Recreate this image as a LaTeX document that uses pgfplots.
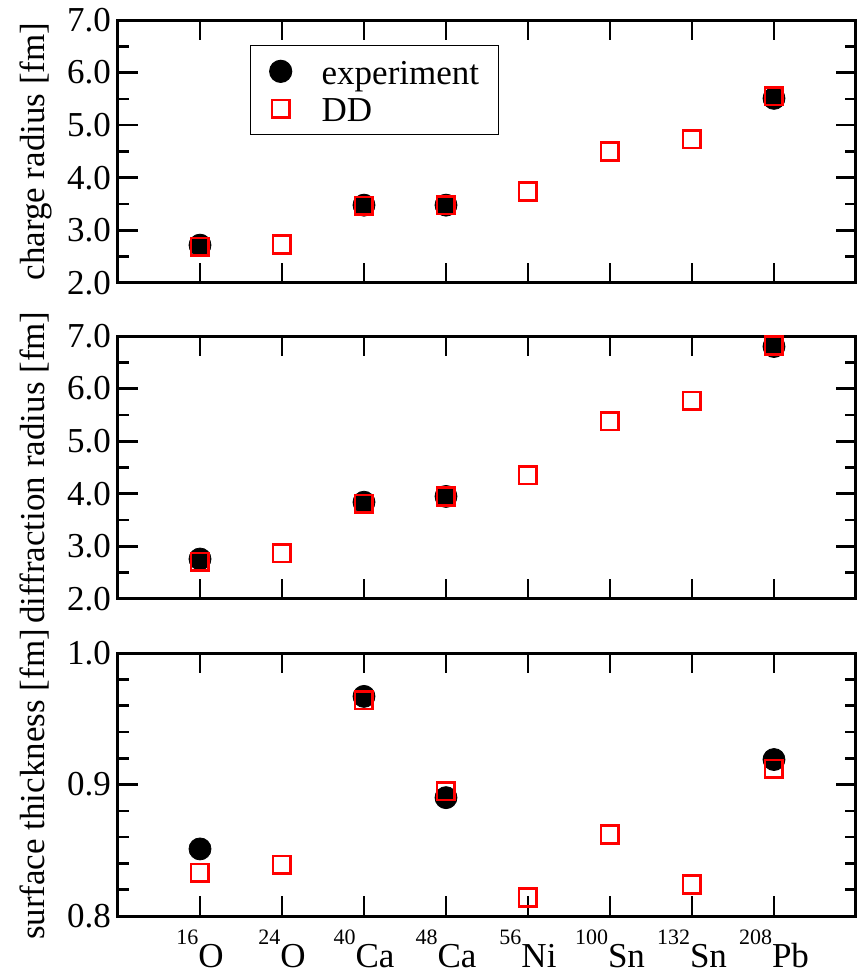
\documentclass[border=0pt]{standalone}
\usepackage{pgfplots}
\pgfplotsset{compat=1.18}
\usepackage{fontspec}
\setmainfont{Liberation Serif}
\newcommand{\iso}[2]{\raisebox{11.5pt}{\fontsize{11}{12}\selectfont #1}#2}

\begin{document}
\begin{tikzpicture}
\path[use as bounding box] (-59pt,-28.5pt) rectangle (370pt,458pt);
\pgfplotsset{
 panel/.style={scale only axis, width=369pt, height=131.5pt, xmin=0, xmax=9, xtick={1,...,8},
   tick align=inside, major tick length=10pt, minor tick length=5.5pt,
   axis line style={line width=1.5pt}, every tick/.style={black,line width=1.3pt},
   ticklabel style={font=\fontsize{17.5}{20}\selectfont},
   label style={font=\fontsize{17.5}{20}\selectfont},
   /pgf/number format/assume math mode=true,
   yticklabel style={/pgf/number format/fixed, /pgf/number format/fixed zerofill, /pgf/number format/precision=1},
   xticklabel style={yshift=-3.5pt},
   ylabel style={at={(axis description cs:-0.099,0.5)}, anchor=base},
   tick pos=both},
 exp/.style={only marks, mark=*, mark size=5.5pt, black, mark options={fill=black}},
 dd/.style={only marks, mark=square, mark size=4.4pt, red, mark options={line width=1.3pt}},
}
\begin{axis}[panel, at={(0,316.5pt)}, anchor=south west, ymin=2, ymax=7, ytick={2,3,4,5,6,7},
  minor y tick num=1, xticklabels={}, ylabel={charge radius [fm]},
  legend cell align=left,
  legend style={at={(axis description cs:0.179,0.905)}, anchor=north west, draw=black, line width=0.6pt,
    inner xsep=9.5pt, inner ysep=6.5pt, font=\fontsize{17.5}{20}\selectfont, row sep=6pt, column sep=15pt,
    nodes={inner xsep=0pt, inner ysep=0pt, text height=12.75pt, text depth=0pt}}]
\addplot[exp] coordinates {(1,2.72)(3,3.48)(4,3.48)(8,5.51)};
\addplot[dd] coordinates {(1,2.69)(2,2.73)(3,3.47)(4,3.48)(5,3.74)(6,4.50)(7,4.73)(8,5.55)};
\legend{experiment, DD}
\end{axis}
\begin{axis}[panel, at={(0,158.5pt)}, anchor=south west, ymin=2, ymax=7, ytick={2,3,4,5,6,7},
  minor y tick num=1, xticklabels={}, ylabel={diffraction radius [fm]}]
\addplot[exp] coordinates {(1,2.76)(3,3.84)(4,3.95)(8,6.80)};
\addplot[dd] coordinates {(1,2.71)(2,2.87)(3,3.81)(4,3.95)(5,4.35)(6,5.38)(7,5.77)(8,6.82)};
\end{axis}
\begin{axis}[panel, at={(0,0)}, anchor=south west, ymin=0.8, ymax=1.0, ytick={0.8,0.9,1.0},
  minor y tick num=4, ylabel={surface thickness [fm]},
  xticklabels={\iso{16}{O}, \iso{24}{O}, \iso{40}{Ca}, \iso{48}{Ca}, \iso{56}{Ni}, \iso{100}{Sn}, \iso{132}{Sn}, \iso{208}{Pb}}]
\addplot[exp] coordinates {(1,0.851)(3,0.967)(4,0.890)(8,0.919)};
\addplot[dd] coordinates {(1,0.833)(2,0.839)(3,0.964)(4,0.895)(5,0.814)(6,0.862)(7,0.824)(8,0.912)};
\end{axis}
\end{tikzpicture}
\end{document}
